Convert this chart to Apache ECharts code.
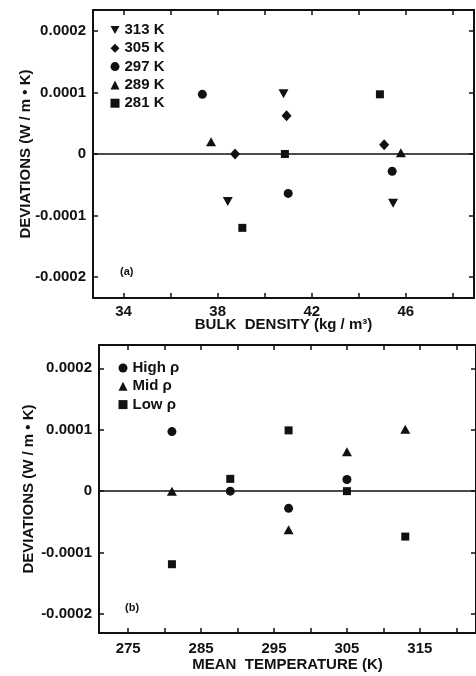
<!DOCTYPE html>
<html>
<head>
<meta charset="utf-8">
<title>Deviations</title>
<script src="https://cdn.jsdelivr.net/npm/echarts@6/dist/echarts.min.js"></script>
<style>
  html, body { margin: 0; padding: 0; background: #fff; }
  #chart { width: 476px; height: 676px; }
</style>
</head>
<body>
<div id="chart"></div>
<script>
// panel (a): deviation vs bulk density, one list per mean temperature
const tempNames = ['313 K', '305 K', '297 K', '289 K', '281 K']
const density313 = [38.43, 40.8, 45.46]
const dev313 = [-0.000077, 0.000098, -0.00008]
const density305 = [38.74, 40.93, 45.08]
const dev305 = [0, 0.000062, 0.000015]
const density297 = [37.35, 41.0, 45.42]
const dev297 = [0.000097, -0.000064, -0.000028]
const density289 = [37.72, 45.79]
const dev289 = [0.00002, 0.000002]
const density281 = [39.05, 40.86, 44.9]
const dev281 = [-0.00012, 0, 0.000097]

// panel (b): deviation vs mean temperature, one list per density group
const groupNames = ['High ρ', 'Mid ρ', 'Low ρ']
const tempHigh = [281, 289, 297, 305]
const devHigh = [0.000097, 0, -0.000028, 0.000019]
const tempMid = [281, 297, 305, 313]
const devMid = [0, -0.000063, 0.000064, 0.000101]
const tempLow = [281, 289, 297, 305, 313]
const devLow = [-0.000119, 0.00002, 0.000099, 0, -0.000074]

const densityLabels = [34, 38, 42, 46]
const tempLabels = [275, 285, 295, 305, 315]
const devLabels = [-0.0002, -0.0001, 0, 0.0001, 0.0002]

const ink = '#111'
const font = 'Liberation Sans, Arial, sans-serif'
const downTri = 'path://M0,0L10,0L5,9Z'

const pairs = (xs, ys) => xs.map((x, i) => [x, ys[i]])
const near = (v, list) => list.some(t => Math.abs(t - v) < 1e-9)
const devFmt = v => {
  if (!near(v, devLabels)) return ''
  return Math.abs(v) < 1e-9 ? '0' : v.toFixed(4)
}

const tick = { show: true, inside: true, length: 5, lineStyle: { color: ink, width: 1.5 } }
const line = { show: true, onZero: false, lineStyle: { color: ink, width: 2 } }
const tickFont = { color: ink, fontFamily: font, fontWeight: 'bold', fontSize: 15 }
const nameFont = { color: ink, fontFamily: font, fontWeight: 'bold', fontSize: 15 }

const xPair = (grid, min, max, step, labels, name, gap, margin) => [
  {
    type: 'value', gridIndex: grid, position: 'bottom', min, max,
    minInterval: step, maxInterval: step, splitNumber: 8,
    axisLine: line, axisTick: tick, splitLine: { show: false },
    axisLabel: { ...tickFont, margin, showMinLabel: false, showMaxLabel: false,
      formatter: v => near(v, labels) ? String(v) : '' },
    name, nameLocation: 'middle', nameGap: gap, nameMoveOverlap: false, nameTextStyle: nameFont,
  },
  {
    type: 'value', gridIndex: grid, position: 'top', min, max,
    minInterval: step, maxInterval: step, splitNumber: 8,
    axisLine: line, axisTick: tick, splitLine: { show: false }, axisLabel: { show: false },
  },
]

const yPair = (grid, min, max, gap) => [
  {
    type: 'value', gridIndex: grid, position: 'left', min, max,
    minInterval: 0.0001, maxInterval: 0.0001, splitNumber: 5,
    axisLine: line, axisTick: tick, splitLine: { show: false },
    axisLabel: { ...tickFont, margin: 7, showMinLabel: false, showMaxLabel: false, formatter: devFmt },
    name: 'DEVIATIONS (W / m • K)', nameLocation: 'middle', nameGap: gap, nameMoveOverlap: false,
    nameTextStyle: nameFont,
  },
  {
    type: 'value', gridIndex: grid, position: 'right', min, max,
    minInterval: 0.0001, maxInterval: 0.0001, splitNumber: 5,
    axisLine: line, axisTick: tick, splitLine: { show: false }, axisLabel: { show: false },
  },
]

const zeroLine = {
  silent: true, symbol: 'none', animation: false,
  label: { show: false },
  lineStyle: { color: ink, width: 1.5, type: 'solid' },
  data: [{ yAxis: 0 }],
}

const dot = (name, data, xi, yi, symbol, size, extra = {}) => ({
  type: 'scatter', name, data, xAxisIndex: xi, yAxisIndex: yi,
  symbol, symbolSize: size, itemStyle: { color: ink, opacity: 1 },
  animation: false, ...extra,
})

const legendBase = {
  orient: 'vertical', padding: 0, itemWidth: 9, itemHeight: 9, itemGap: 3.3,
  selectedMode: false,
  textStyle: { color: ink, fontFamily: font, fontWeight: 'bold', fontSize: 15, lineHeight: 15 },
}

const chart = echarts.init(document.getElementById('chart'), null, { renderer: 'canvas' })

chart.setOption({
  backgroundColor: '#fff',
  animation: false,
  grid: [
    { left: 93, top: 10, width: 381, height: 288 },
    { left: 99, top: 345, width: 379, height: 288 },
  ],
  xAxis: [
    ...xPair(0, 32.7, 48.9, 2, densityLabels, 'BULK  DENSITY (kg / m³)', 19, 6),
    ...xPair(1, 271, 322.7, 5, tempLabels, 'MEAN  TEMPERATURE (K)', 24, 8),
  ],
  yAxis: [
    ...yPair(0, -0.000234, 0.000234, 60),
    ...yPair(1, -0.000231, 0.000238, 63),
  ],
  legend: [
    { ...legendBase, left: 110.5, top: 22.5,
      data: tempNames.map(n => n === '313 K' ? { name: n, icon: downTri } : n) },
    { ...legendBase, left: 118.5, top: 360.5, data: groupNames },
  ],
  graphic: [
    { type: 'text', left: 120, top: 266, style: { text: '(a)', fill: ink, font: 'bold 11px ' + font } },
    { type: 'text', left: 125, top: 602, style: { text: '(b)', fill: ink, font: 'bold 11px ' + font } },
  ],
  series: [
    dot('313 K', pairs(density313, dev313), 0, 0, 'triangle', [10, 9], { symbolRotate: 180, markLine: zeroLine }),
    dot('305 K', pairs(density305, dev305), 0, 0, 'diamond', [10, 11]),
    dot('297 K', pairs(density297, dev297), 0, 0, 'circle', 9),
    dot('289 K', pairs(density289, dev289), 0, 0, 'triangle', [10, 9]),
    dot('281 K', pairs(density281, dev281), 0, 0, 'rect', 8),
    dot('High ρ', pairs(tempHigh, devHigh), 2, 2, 'circle', 9, { markLine: zeroLine }),
    dot('Mid ρ', pairs(tempMid, devMid), 2, 2, 'triangle', [10, 9]),
    dot('Low ρ', pairs(tempLow, devLow), 2, 2, 'rect', 8),
  ],
})
</script>
</body>
</html>
